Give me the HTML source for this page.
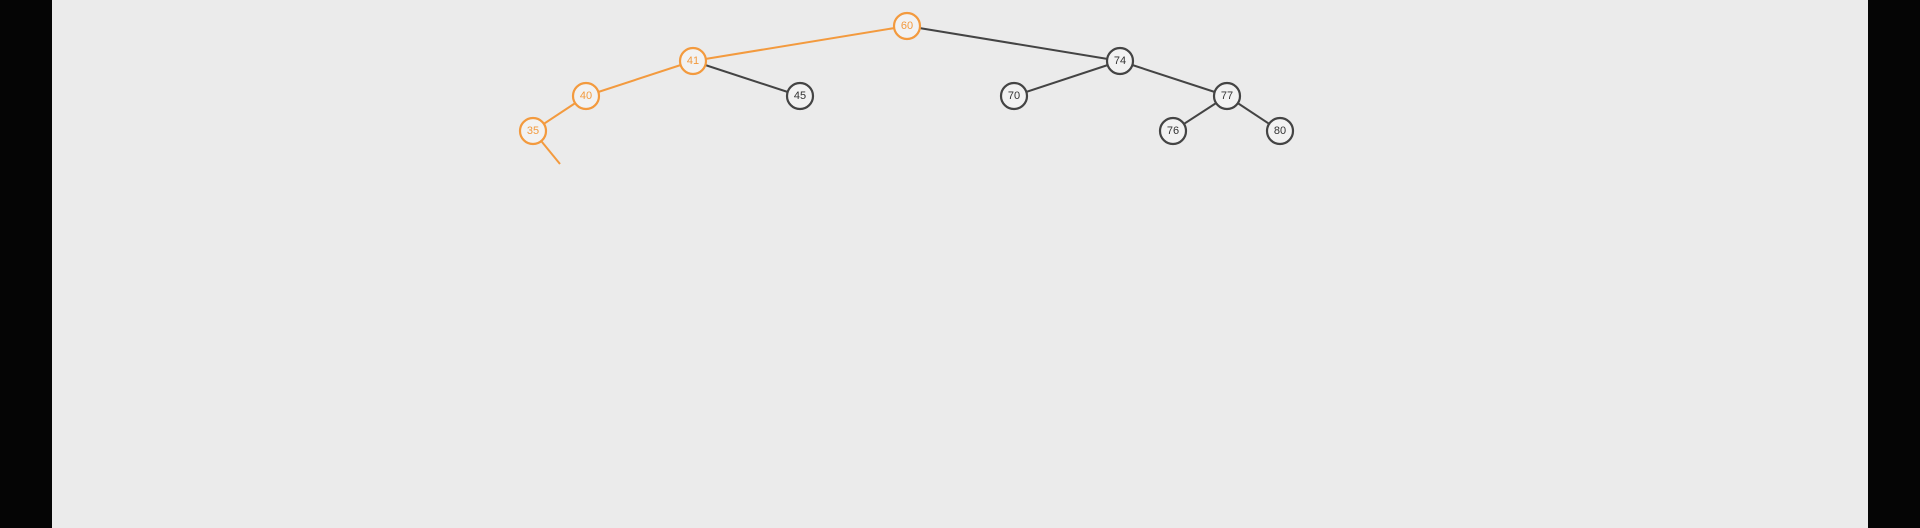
<!DOCTYPE html>
<html><head><style>
html,body{margin:0;padding:0;width:1920px;height:528px;overflow:hidden;background:#050505}
#bg{position:absolute;left:52px;top:0;width:1816px;height:528px;background:#ebebeb}
svg{position:absolute;left:0;top:0}
text{font-family:"Liberation Sans",sans-serif;font-size:11px;text-anchor:middle;dominant-baseline:central}
</style></head><body>
<div id="bg"></div>
<svg id="tree" width="1920" height="528"></svg>
<script>
const keys=[60,41,40,35,45,74,70,77,76,80];
const xs=[907,693,586,533,800,1120,1014,1227,1173,1280];
const depth=[0,1,2,3,2,1,2,2,3,3];
const parent=[-1,0,1,2,1,0,5,5,7,7];
const hl=[1,1,1,1,0,0,0,0,0,0];
const NS="http://www.w3.org/2000/svg";
const svg=document.getElementById('tree');
const yOf=d=>26+d*35;
const OR="#f39a3e",GR="#444";
for(let i=0;i<keys.length;i++){
  if(parent[i]<0)continue;const p=parent[i];
  const l=document.createElementNS(NS,'line');
  l.setAttribute('x1',xs[p]);l.setAttribute('y1',yOf(depth[p]));
  l.setAttribute('x2',xs[i]);l.setAttribute('y2',yOf(depth[i]));
  l.setAttribute('stroke',hl[i]?OR:GR);l.setAttribute('stroke-width',2);
  
  
  svg.appendChild(l);
}
const pl=document.createElementNS(NS,'line');
pl.setAttribute('x1',533);pl.setAttribute('y1',yOf(3));pl.setAttribute('x2',560);pl.setAttribute('y2',164);
pl.setAttribute('stroke',OR);pl.setAttribute('stroke-width',2);


svg.appendChild(pl);
for(let i=0;i<keys.length;i++){
  const g=document.createElementNS(NS,'g');
  
  
  const c=document.createElementNS(NS,'circle');
  c.setAttribute('cx',xs[i]);c.setAttribute('cy',yOf(depth[i]));c.setAttribute('r',13);
  c.setAttribute('fill','#f2f2f2');c.setAttribute('stroke',hl[i]?OR:GR);c.setAttribute('stroke-width',2.2);
  const t=document.createElementNS(NS,'text');
  t.setAttribute('x',xs[i]);t.setAttribute('y',yOf(depth[i]));
  t.setAttribute('fill',hl[i]?OR:'#333');t.textContent=keys[i];
  g.appendChild(c);g.appendChild(t);svg.appendChild(g);
}
</script>
</body></html>
